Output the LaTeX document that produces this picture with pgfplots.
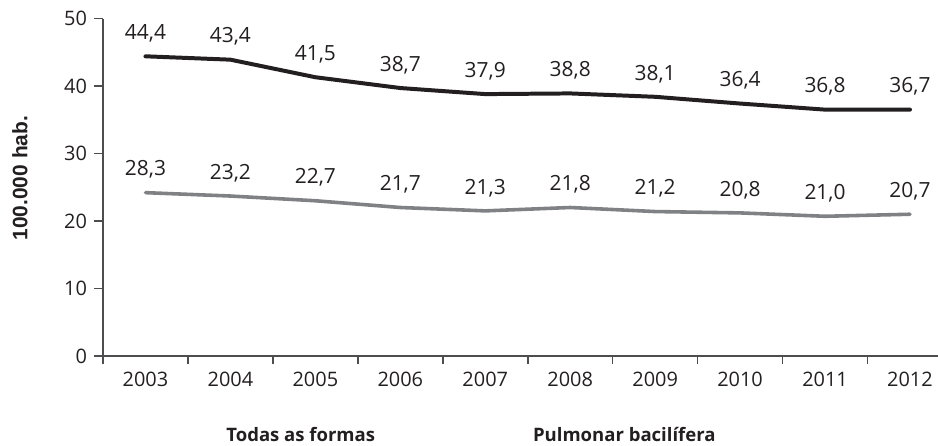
\documentclass[border=0pt]{standalone}
\usepackage{fontspec}
\setmainfont{Open Sans}
\newfontfamily\labelfont{Liberation Sans}
\usepackage{pgfplots}
\usepackage{pgfplotstable}
\pgfplotsset{compat=1.18}

\definecolor{inkblack}{HTML}{231F20}
\definecolor{midgray}{HTML}{808184}
\definecolor{axisgray}{HTML}{4D4D4F}

% x = 0..9 -> 2003..2012; y = visible line height, label = printed value
\pgfplotstableread{
x y label
0 44.4 {44,4}
1 43.9 {43,4}
2 41.3 {41,5}
3 39.7 {38,7}
4 38.8 {37,9}
5 38.9 {38,8}
6 38.4 {38,1}
7 37.4 {36,4}
8 36.5 {36,8}
9 36.5 {36,7}
}\todas

\pgfplotstableread{
x y label
0 24.2 {28,3}
1 23.7 {23,2}
2 23.0 {22,7}
3 22.0 {21,7}
4 21.5 {21,3}
5 22.0 {21,8}
6 21.4 {21,2}
7 21.2 {20,8}
8 20.7 {21,0}
9 21.0 {20,7}
}\pulmonar

\begin{document}
\fontsize{10}{12}\selectfont
\begin{tikzpicture}
\useasboundingbox (-51.5bp,-45bp) rectangle (417.5bp,178bp);
\begin{axis}[
    at={(0,0)}, anchor=south west,
    scale only axis,
    width=417.5bp, height=168.75bp,
    xmin=-0.5, xmax=9.33,
    ymin=0, ymax=50,
    axis x line*=bottom, axis y line*=left,
    axis line style={axisgray, line width=0.8pt},
    xtick={0,...,9},
    xticklabels={2003,2004,2005,2006,2007,2008,2009,2010,2011,2012},
    major x tick style={draw=none},
    minor xtick={-0.5,0.5,...,8.5},
    minor x tick style={axisgray, line width=0.8pt},
    ytick={0,10,...,50},
    y tick style={axisgray, line width=0.8pt},
    tick align=outside,
    major tick length=4.5bp, minor tick length=4bp,
    tick label style={font=\fontsize{10}{12}\selectfont, text=inkblack},
    /pgf/number format/assume math mode=true,
    ylabel={100.000 hab.},
    ylabel style={at={(axis description cs:-0.0994,0.527)}, anchor=center,
        font=\labelfont\fontsize{10.5}{12}\selectfont\bfseries, text=inkblack},
    nodes near coords,
    point meta=explicit symbolic,
    nodes near coords style={anchor=center, yshift=11.5bp,
        font=\fontsize{10.5}{12}\selectfont, text=inkblack},
    legend columns=2,
    legend image code/.code={},
    legend style={draw=none, fill=none, at={(axis description cs:0.4407,-0.237)},
        anchor=center, font=\fontsize{9.3}{11}\selectfont\bfseries, text=inkblack,
        /tikz/every even column/.append style={column sep=75bp}},
    clip=false,
]
\addplot[inkblack, line width=2pt, line cap=round, line join=round]
    table[x=x, y=y, meta=label] {\todas};
\addlegendentry{Todas as formas}
\addplot[midgray, line width=1.8pt, line cap=round, line join=round]
    table[x=x, y=y, meta=label] {\pulmonar};
\addlegendentry{Pulmonar bacilífera}
\end{axis}
\end{tikzpicture}
\end{document}
